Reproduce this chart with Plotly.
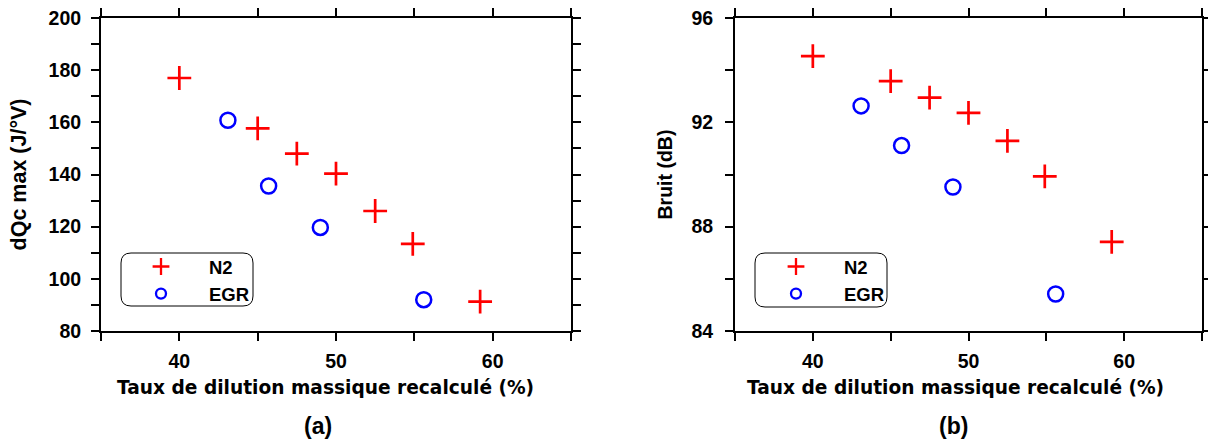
import plotly.graph_objects as go

# ---- data ----
n2_x = [40.0, 45.0, 47.5, 50.0, 52.5, 54.9, 59.2]
n2_dqc = [177.0, 157.7, 148.0, 140.3, 126.0, 113.4, 91.3]
n2_bruit = [94.54, 93.58, 92.95, 92.36, 91.29, 89.93, 87.42]

egr_x = [43.1, 45.7, 49.0, 55.6]
egr_dqc = [160.8, 135.6, 119.7, 92.0]
egr_bruit = [92.63, 91.11, 89.52, 85.42]

x_tickvals = [35, 40, 45, 50, 55, 60, 65]
x_ticktext = ["", "40", "", "50", "", "60", ""]
ya_tickvals = [80, 90, 100, 110, 120, 130, 140, 150, 160, 170, 180, 190, 200]
ya_ticktext = ["80", "", "100", "", "120", "", "140", "", "160", "", "180", "", "200"]
yb_tickvals = [84, 86, 88, 90, 92, 94, 96]
yb_ticktext = ["84", "", "88", "", "92", "", "96"]

W, H = 1208, 441
FONT = "Liberation Sans, Arial, sans-serif"
WIDE = "DejaVu Sans, sans-serif"
RED = "#ff0000"
BLUE = "#0000ff"
X_TITLE = "Taux de dilution massique recalculé (%)"

fig = go.Figure()

def add_panel(xax, yax, yvals_n2, yvals_egr, legend):
    fig.add_trace(go.Scatter(x=n2_x, y=yvals_n2, mode="markers", xaxis=xax, yaxis=yax,
                             showlegend=False,
                             marker=dict(symbol="cross-thin", size=17, color=RED,
                                         line=dict(color=RED, width=2.7))))
    fig.add_trace(go.Scatter(x=egr_x, y=yvals_egr, mode="markers", xaxis=xax, yaxis=yax,
                             showlegend=False,
                             marker=dict(symbol="circle-open", size=15, color=BLUE,
                                         line=dict(color=BLUE, width=2.5))))
    # legend entries
    fig.add_trace(go.Scatter(x=[None], y=[None], mode="markers", xaxis=xax, yaxis=yax,
                             name="N2", legend=legend,
                             marker=dict(symbol="cross-thin", size=12, color=RED,
                                         line=dict(color=RED, width=2.3))))
    fig.add_trace(go.Scatter(x=[None], y=[None], mode="markers", xaxis=xax, yaxis=yax,
                             name="EGR", legend=legend,
                             marker=dict(symbol="circle-open", size=10, color=BLUE,
                                         line=dict(color=BLUE, width=2.3))))

add_panel("x", "y", n2_dqc, egr_dqc, "legend")
add_panel("x2", "y2", n2_bruit, egr_bruit, "legend2")

ydom = [1 - 331 / H, 1 - 18 / H]
axis_common = dict(showline=True, linecolor="black", linewidth=2, mirror="ticks",
                   ticks="outside", ticklen=8, tickwidth=2, tickcolor="black",
                   showgrid=False, zeroline=False,
                   tickfont=dict(family=FONT, size=19.5, color="black", weight="bold"))

xa = dict(axis_common, range=[35, 65], tickmode="array", tickvals=x_tickvals,
          ticktext=x_ticktext, ticklabelstandoff=4)

leg_common = dict(xanchor="left", yanchor="top", bgcolor="rgba(0,0,0,0)", borderwidth=0,
                  itemwidth=86, tracegroupgap=0, itemclick=False,
                  font=dict(family=FONT, size=18.5, color="black", weight="bold"))

fig.update_layout(
    width=W, height=H,
    margin=dict(l=0, r=0, t=0, b=0, autoexpand=False),
    paper_bgcolor="white", plot_bgcolor="white",
    xaxis=dict(xa, domain=[101 / W, 571 / W], anchor="y"),
    yaxis=dict(axis_common, domain=ydom, range=[80, 200], tickmode="array",
               tickvals=ya_tickvals, ticktext=ya_ticktext, anchor="x", ticklabelstandoff=6,
               title=dict(text="dQc max (J/°V)",
                          font=dict(family=FONT, size=21.5, color="black", weight="bold"),
                          standoff=16)),
    xaxis2=dict(xa, domain=[735 / W, 1202 / W], anchor="y2"),
    yaxis2=dict(axis_common, domain=ydom, range=[84, 96], tickmode="array",
                tickvals=yb_tickvals, ticktext=yb_ticktext, anchor="x2", ticklabelstandoff=8,
                title=dict(text="Bruit (dB)",
                           font=dict(family=FONT, size=19.5, color="black", weight="bold"),
                           standoff=14)),
    legend=dict(leg_common, x=113 / W, y=1 - 248 / H),
    legend2=dict(leg_common, x=748 / W, y=1 - 248 / H),
    showlegend=True,
)

def rounded_box(x0, y0, x1, y1, r):
    def px(x):
        return x / W
    def py(y):
        return 1 - y / H
    rx, ry = r / W, r / H
    X0, X1, Y0, Y1 = px(x0), px(x1), py(y0), py(y1)
    return (f"M {X0+rx},{Y0} L {X1-rx},{Y0} Q {X1},{Y0} {X1},{Y0-ry} "
            f"L {X1},{Y1+ry} Q {X1},{Y1} {X1-rx},{Y1} L {X0+rx},{Y1} "
            f"Q {X0},{Y1} {X0},{Y1+ry} L {X0},{Y0-ry} Q {X0},{Y0} {X0+rx},{Y0} Z")

for box in [(121, 253, 253, 306), (755, 253, 887, 307)]:
    fig.add_shape(type="path", xref="paper", yref="paper",
                  path=rounded_box(*box, 10), line=dict(color="black", width=1))

for xc in [325, 955]:
    fig.add_annotation(text=X_TITLE, xref="paper", yref="paper", x=xc / W, y=1 - 387 / H,
                       xanchor="center", yanchor="middle", showarrow=False,
                       font=dict(family=WIDE, size=18.6, color="black", weight="bold"))

for txt, xc in [("(a)", 318), ("(b)", 953)]:
    fig.add_annotation(text=txt, xref="paper", yref="paper", x=xc / W, y=1 - 426 / H,
                       xanchor="center", yanchor="middle", showarrow=False,
                       font=dict(family=FONT, size=23, color="black", weight="bold"))

fig.write_html("out.html", config={"displayModeBar": False},
               post_script="document.body.style.margin='0';")
